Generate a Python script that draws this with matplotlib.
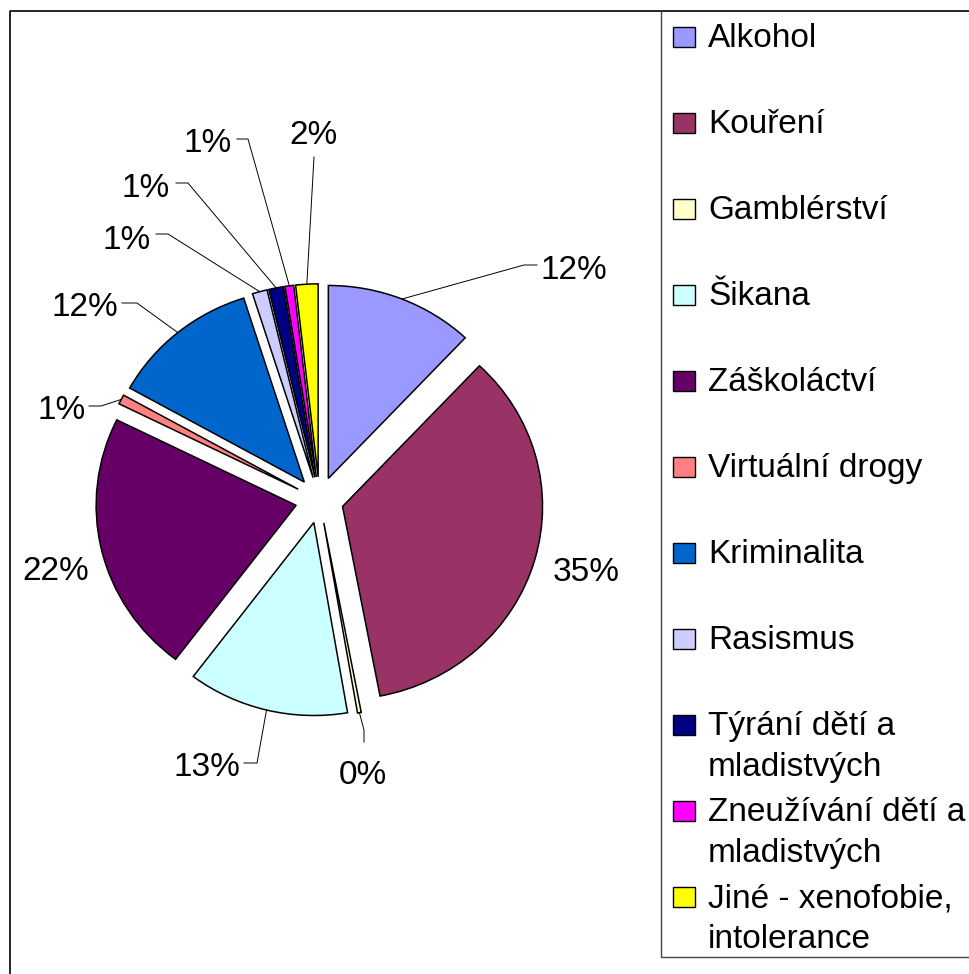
import numpy as np
import matplotlib.pyplot as plt
import matplotlib.transforms as mtransforms
from matplotlib.patches import Rectangle

categories = ['Alkohol', 'Kouření', 'Gamblérství', 'Šikana', 'Záškoláctví',
              'Virtuální drogy', 'Kriminalita', 'Rasismus',
              'Týrání dětí a\nmladistvých', 'Zneužívání dětí a\nmladistvých',
              'Jiné - xenofobie,\nintolerance']
shares = [12, 35, 0.3, 13, 22, 0.8, 12, 1.2, 1.2, 0.7, 1.8]
colors = ['#9999FF', '#993366', '#FFFFCC', '#CCFFFF', '#660066', '#FF8080',
          '#0066CC', '#CCCCFF', '#000080', '#FF00FF', '#FFFF00']

W, H = 970, 974
YS = 0.965  # the pie is slightly squashed vertically in the original

# label layout in image pixels (x, centre y, alignment)
label_pos = [(541, 267, 'left'), (586, 569, 'center'), (363, 772, 'center'),
             (240, 764, 'right'), (56, 568, 'center'), (86, 407, 'right'),
             (118, 304, 'right'), (151, 237, 'right'), (170, 185, 'right'),
             (232, 140, 'right'), (314, 132, 'center')]
leader_pts = [[(524, 265), (537, 265)], None, [(364, 730), (364, 742)],
              [(257, 763), (244, 763)], None, [(101, 406), (89, 406)],
              [(137, 303), (122, 303)], [(168, 234), (156, 234)],
              [(188, 183), (176, 183)], [(248, 139), (237, 139)],
              [(314, 157)]]

plt.rcParams['font.family'] = ['Liberation Sans', 'DejaVu Sans']
FS = 24

fig = plt.figure(figsize=(W / 100, H / 100), dpi=100)
ax = fig.add_axes([0, 0, 1, 1])
cx, cy = 319.5, (H - 500) / YS
# explode is in data units here (radius is 200)
wedges, _ = ax.pie(shares, colors=colors, startangle=90, counterclock=False,
                   explode=[24] * len(shares), radius=200, center=(cx, cy),
                   wedgeprops=dict(edgecolor='black', linewidth=1.1))
ax.set_aspect('auto')
ax.set_xlim(0, W)
ax.set_ylim(0, H / YS)
ax.axis('off')

# transform for image-pixel coordinates (y pointing down)
pix = mtransforms.Affine2D().scale(1 / W, -1 / H).translate(0, 1) + fig.transFigure


def to_img(x, y):
    return x, H - y * YS


total = sum(shares)
for w, s, (tx, ty, ha), pts in zip(wedges, shares, label_pos, leader_pts):
    pct = f'{round(s / total * 100):.0f}%'
    fig.text(tx, ty + 12, pct, ha=ha, va='baseline', fontsize=FS, transform=pix)
    if pts is None:
        continue
    mid = np.deg2rad((w.theta1 + w.theta2) / 2)
    wx, wy = to_img(w.center[0] + w.r * np.cos(mid), w.center[1] + w.r * np.sin(mid))
    xs = [wx] + [p[0] for p in pts]
    ys = [wy] + [p[1] for p in pts]
    fig.add_artist(plt.Line2D(xs, ys, color='black', lw=0.7, transform=pix))

# figure frame (left and top only are visible)
fig.add_artist(plt.Line2D([10, 10, W], [H, 11, 11], color='black', lw=1.2, transform=pix))

# legend box
fig.add_artist(plt.Line2D([661, 661, W], [11, 957, 957], color='#444444', lw=1.0, transform=pix))
for i, (cat, col) in enumerate(zip(categories, colors)):
    base = 47 + 86 * i
    fig.add_artist(Rectangle((673, base - 20), 22, 20, facecolor=col,
                             edgecolor='black', lw=1.0, transform=pix))
    for k, line in enumerate(cat.split('\n')):
        fig.text(708, base + 41 * k, line, ha='left', va='baseline',
                 fontsize=FS, transform=pix)

fig.savefig('out.png', dpi=100)
